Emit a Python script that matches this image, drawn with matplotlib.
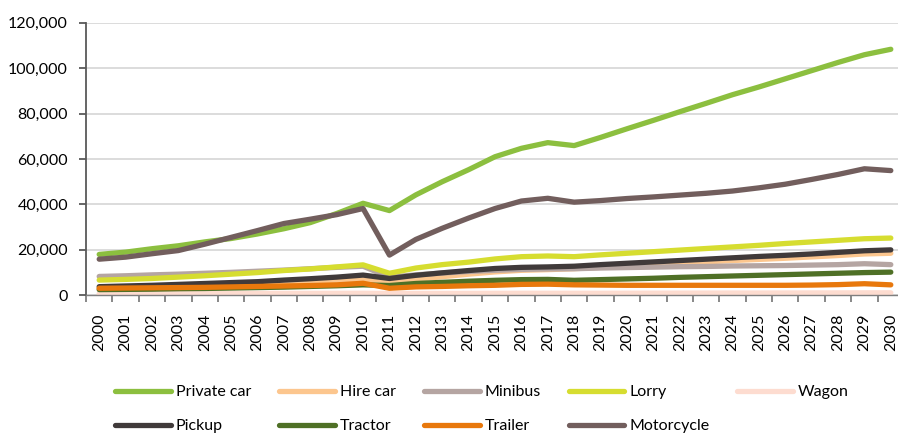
import numpy as np
import matplotlib
matplotlib.use('Agg')
import matplotlib.pyplot as plt
from matplotlib.ticker import FuncFormatter, FixedLocator

plt.rcParams['font.family'] = ['Lato', 'DejaVu Sans']

years = [str(y) for y in range(2000, 2031)]

private_car = [18000, 19000, 20500, 21800, 23500, 25000, 27000, 29300, 32000, 36000, 40500,
               37300, 44200, 50000, 55300, 61000, 64700, 67200, 65900, 69500, 73300, 77000,
               80800, 84500, 88300, 91700, 95300, 98900, 102500, 105900, 108300]
hire_car = [3000, 3200, 3400, 3700, 4000, 4300, 4700, 5100, 5600, 6200, 6800,
            5500, 7000, 8200, 9300, 10300, 11000, 11300, 11700, 12300, 12900, 13500,
            14100, 14700, 15300, 15800, 16300, 16900, 17500, 18200, 18500]
minibus = [8300, 8600, 9000, 9300, 9700, 10100, 10600, 11100, 11700, 12300, 12800,
           8000, 9000, 9800, 10500, 11000, 11400, 11600, 11700, 12000, 12200, 12400,
           12600, 12700, 12900, 13000, 13100, 13300, 13500, 13900, 13500]
lorry = [6700, 7000, 7400, 8000, 8600, 9300, 10000, 10900, 11600, 12500, 13400,
         9700, 12000, 13500, 14600, 16000, 17000, 17300, 17000, 17800, 18500, 19200,
         19900, 20600, 21300, 22000, 22800, 23500, 24200, 24900, 25200]
wagon = [700, 720, 740, 760, 780, 800, 820, 840, 860, 880, 900,
         800, 820, 840, 860, 880, 900, 900, 900, 900, 920, 940,
         960, 980, 1000, 1000, 1020, 1040, 1060, 1080, 1100]
pickup = [3800, 4100, 4400, 4800, 5200, 5600, 6000, 6700, 7300, 8000, 8900,
          7400, 8800, 9900, 10900, 11800, 12300, 12500, 12800, 13500, 14100, 14700,
          15300, 15900, 16500, 17100, 17600, 18200, 18900, 19600, 20000]
tractor = [2500, 2600, 2700, 2900, 3000, 3200, 3400, 3600, 3900, 4200, 4600,
           4300, 5200, 5700, 6200, 6600, 6900, 7000, 6600, 6900, 7200, 7500,
           7900, 8200, 8500, 8800, 9100, 9400, 9700, 10000, 10200]
trailer = [3100, 3200, 3300, 3400, 3500, 3700, 3900, 4100, 4300, 4600, 5300,
           3100, 3700, 3900, 4200, 4400, 4800, 4900, 4600, 4500, 4400, 4400,
           4400, 4400, 4400, 4400, 4400, 4500, 4700, 5100, 4600]
motorcycle = [15900, 16800, 18300, 19700, 22500, 25500, 28500, 31600, 33500, 35500, 38200,
              17700, 24600, 29500, 34000, 38200, 41500, 42700, 41000, 41700, 42600, 43300,
              44100, 44900, 45900, 47300, 48900, 51000, 53200, 55700, 54900]

series = [
    ('Private car', private_car, '#8CBF3F'),
    ('Hire car', hire_car, '#FCC68E'),
    ('Minibus', minibus, '#B5A5A2'),
    ('Lorry', lorry, '#D6DD30'),
    ('Wagon', wagon, '#FDDCD0'),
    ('Pickup', pickup, '#403A3A'),
    ('Tractor', tractor, '#4F7026'),
    ('Trailer', trailer, '#E8780C'),
    ('Motorcycle', motorcycle, '#725E5D'),
]

fig = plt.figure(figsize=(8.98, 4.33), dpi=100)
ax = fig.add_axes([86 / 898, 1 - 295.3 / 433, (904 - 86) / 898, (295.3 - 22.7) / 433])

x = np.arange(len(years))
handles = {}
for name, vals, col in series:
    ln, = ax.plot(x, vals, color=col, lw=3.8, solid_capstyle='round', label=name)
    handles[name] = ln

ax.set_xlim(-0.5, len(years) - 0.5)
ax.set_ylim(0, 120000)
ax.set_yticks(range(0, 120001, 20000))
ax.yaxis.set_major_formatter(FuncFormatter(lambda v, p: f'{int(v):,}'))
ax.grid(axis='y', color='#D9D9D9', lw=1.3)
ax.set_axisbelow(True)

ax.set_xticks(x)
ax.set_xticklabels(years, rotation=90)
ax.xaxis.set_minor_locator(FixedLocator(np.arange(-0.5, len(years), 1)))
ax.tick_params(axis='x', which='major', length=0, pad=13, labelsize=11.5, colors='#000000')
ax.tick_params(axis='x', which='minor', length=5, width=1.3, color='#7F7F7F', direction='out')
ax.tick_params(axis='y', length=5, width=1.3, color='#595959', labelsize=11.5, pad=8)

for s in ['top', 'right']:
    ax.spines[s].set_visible(False)
ax.spines['left'].set_color('#595959')
ax.spines['left'].set_linewidth(1.3)
ax.spines['bottom'].set_color('#7F7F7F')
ax.spines['bottom'].set_linewidth(1.0)

# legend is column-major, so interleave the two rows
order = ['Private car', 'Pickup', 'Hire car', 'Tractor', 'Minibus', 'Trailer',
         'Lorry', 'Motorcycle', 'Wagon']
fig.legend([handles[n] for n in order], order, ncol=5, loc='upper left',
           bbox_to_anchor=(107 / 898, 1 - 377 / 433), frameon=False,
           fontsize=11.5, handlelength=3.5, handletextpad=0.3,
           columnspacing=1.75, labelspacing=1.25, borderpad=0)

fig.savefig('out.png', dpi=100)
